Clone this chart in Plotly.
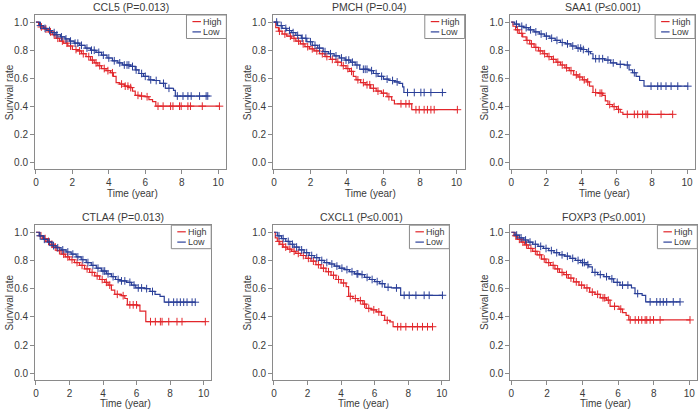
import numpy as np
import plotly.graph_objects as go

W, H = 698, 410

titles = ["CCL5 (P=0.013)", "PMCH (P=0.04)", "SAA1 (P\u22640.001)",
          "CTLA4 (P=0.013)", "CXCL1 (P\u22640.001)", "FOXP3 (P\u22640.001)"]
group_names = ["High", "Low"]
x_ticks = [0, 2, 4, 6, 8, 10]
y_ticks = [0.0, 0.2, 0.4, 0.6, 0.8, 1.0]

# ---------------- CCL5 ----------------
ccl5_high_t = [0, 0.15, 0.3, 0.5, 0.7, 0.9, 1.1, 1.3, 1.5, 1.75, 2.0, 2.25, 2.5, 2.75, 3.0, 3.2, 3.4, 3.6, 3.85, 4.1, 4.25, 4.4, 4.6, 4.85, 5.1, 5.3, 5.45, 5.7, 6.0, 6.2, 6.4, 6.58]
ccl5_high_s = [1.0, 0.98, 0.965, 0.95, 0.93, 0.91, 0.885, 0.865, 0.85, 0.83, 0.805, 0.795, 0.775, 0.755, 0.73, 0.71, 0.69, 0.67, 0.655, 0.64, 0.615, 0.57, 0.56, 0.545, 0.535, 0.51, 0.48, 0.475, 0.47, 0.45, 0.435, 0.403]
ccl5_high_end = 10.07
ccl5_high_cens = [0.3, 0.55, 0.8, 1.0, 1.2, 1.45, 1.7, 1.9, 2.2, 2.4, 2.6, 2.9, 3.1, 3.3, 3.5, 3.75, 3.95, 4.2, 4.7, 4.9, 5.05, 5.2, 5.6, 5.8, 6.1, 6.7, 6.98, 7.39, 7.52, 7.88, 7.97, 8.34, 8.48, 9.13, 10.07]
ccl5_low_t = [0, 0.2, 0.4, 0.6, 0.85, 1.1, 1.35, 1.6, 1.85, 2.1, 2.4, 2.7, 3.0, 3.3, 3.6, 3.9, 4.2, 4.5, 4.75, 5.2, 5.45, 5.65, 5.9, 6.2, 6.5, 6.8, 7.1, 7.55, 7.65]
ccl5_low_s = [1.0, 0.975, 0.955, 0.94, 0.925, 0.91, 0.895, 0.88, 0.865, 0.85, 0.835, 0.815, 0.8, 0.785, 0.765, 0.745, 0.725, 0.71, 0.695, 0.685, 0.66, 0.635, 0.615, 0.59, 0.585, 0.565, 0.53, 0.515, 0.475]
ccl5_low_end = 9.43
ccl5_low_cens = [0.25, 0.5, 0.75, 1.0, 1.15, 1.4, 1.65, 1.9, 2.15, 2.3, 2.5, 2.8, 3.05, 3.2, 3.45, 3.7, 4.0, 4.3, 4.6, 4.85, 5.0, 5.1, 5.3, 5.5, 5.8, 6.0, 6.3, 6.6, 7.0, 7.3, 7.76, 8.07, 8.34, 8.52, 8.98, 9.34, 9.43]

# ---------------- PMCH ----------------
pmch_high_t = [0, 0.1, 0.25, 0.45, 0.7, 0.95, 1.2, 1.45, 1.7, 1.95, 2.2, 2.5, 2.8, 3.1, 3.4, 3.7, 3.95, 4.15, 4.35, 4.5, 4.75, 5.0, 5.3, 5.6, 5.9, 6.2, 6.45, 6.6, 7.55]
pmch_high_s = [1.0, 0.96, 0.935, 0.915, 0.9, 0.885, 0.865, 0.845, 0.825, 0.81, 0.795, 0.775, 0.755, 0.735, 0.715, 0.69, 0.67, 0.65, 0.615, 0.59, 0.57, 0.555, 0.53, 0.51, 0.495, 0.47, 0.445, 0.42, 0.378]
pmch_high_end = 10.05
pmch_high_cens = [0.3, 0.6, 0.9, 1.1, 1.35, 1.6, 1.85, 2.1, 2.35, 2.65, 2.9, 3.2, 3.5, 3.8, 4.05, 4.25, 4.6, 4.9, 5.1, 5.25, 5.45, 5.7, 6.0, 6.3, 6.96, 7.23, 7.41, 7.78, 7.96, 8.23, 8.41, 8.6, 8.78, 10.05]
pmch_low_t = [0, 0.2, 0.45, 0.7, 0.95, 1.2, 1.5, 1.8, 2.1, 2.4, 2.7, 3.0, 3.3, 3.6, 3.9, 4.2, 4.45, 4.7, 5.2, 5.45, 5.7, 6.0, 6.3, 6.6, 6.85, 7.05, 7.12]
pmch_low_s = [1.0, 0.975, 0.955, 0.94, 0.925, 0.905, 0.885, 0.86, 0.835, 0.815, 0.79, 0.775, 0.76, 0.745, 0.73, 0.715, 0.695, 0.665, 0.655, 0.635, 0.615, 0.595, 0.585, 0.575, 0.565, 0.54, 0.50]
pmch_low_end = 9.23
pmch_low_cens = [0.15, 0.4, 0.65, 0.85, 1.05, 1.3, 1.55, 1.75, 2.0, 2.25, 2.5, 2.8, 3.1, 3.4, 3.7, 3.95, 4.1, 4.3, 4.55, 4.9, 5.0, 5.1, 5.35, 5.6, 5.9, 6.2, 6.5, 6.75, 7.32, 7.69, 8.05, 8.23, 8.6, 9.23]

# ---------------- SAA1 ----------------
saa1_high_t = [0, 0.1, 0.25, 0.45, 0.65, 0.85, 1.05, 1.3, 1.55, 1.8, 2.05, 2.3, 2.55, 2.8, 3.05, 3.3, 3.55, 3.8, 4.05, 4.3, 4.45, 4.65, 4.95, 5.2, 5.35, 5.5, 5.75, 6.0, 6.2, 6.35]
saa1_high_s = [1.0, 0.97, 0.945, 0.92, 0.895, 0.87, 0.845, 0.82, 0.795, 0.775, 0.755, 0.735, 0.715, 0.695, 0.675, 0.655, 0.625, 0.61, 0.59, 0.575, 0.545, 0.5, 0.495, 0.48, 0.44, 0.415, 0.4, 0.38, 0.36, 0.345]
saa1_high_end = 9.18
saa1_high_cens = [0.35, 0.6, 0.9, 1.15, 1.4, 1.65, 1.9, 2.15, 2.4, 2.65, 2.9, 3.15, 3.4, 3.7, 3.9, 4.15, 4.35, 4.8, 5.05, 5.15, 5.6, 5.85, 6.1, 6.6, 7.0, 7.19, 7.47, 7.66, 7.76, 8.52, 9.18]
saa1_low_t = [0, 0.2, 0.45, 0.7, 1.0, 1.3, 1.6, 1.9, 2.2, 2.5, 2.8, 3.1, 3.4, 3.7, 4.0, 4.3, 4.5, 4.65, 5.3, 5.65, 6.0, 6.45, 6.7, 6.9, 7.1, 7.3, 7.55]
saa1_low_s = [1.0, 0.985, 0.97, 0.96, 0.945, 0.93, 0.915, 0.9, 0.885, 0.87, 0.855, 0.845, 0.83, 0.815, 0.805, 0.79, 0.775, 0.74, 0.73, 0.71, 0.7, 0.695, 0.66, 0.64, 0.615, 0.585, 0.545]
saa1_low_end = 10.04
saa1_low_cens = [0.3, 0.6, 0.85, 1.1, 1.4, 1.7, 2.0, 2.3, 2.6, 2.9, 3.2, 3.5, 3.8, 3.95, 4.1, 4.4, 4.8, 5.0, 5.2, 5.5, 5.8, 6.2, 6.6, 7.0, 7.95, 8.33, 8.52, 8.8, 9.09, 9.47, 10.04]

# ---------------- CTLA4 ----------------
ctla4_high_t = [0, 0.2, 0.4, 0.6, 0.8, 1.0, 1.25, 1.5, 1.75, 2.0, 2.3, 2.6, 2.9, 3.2, 3.5, 3.8, 4.1, 4.3, 4.5, 4.7, 5.1, 5.3, 5.45, 6.05, 6.2, 6.55]
ctla4_high_s = [1.0, 0.975, 0.955, 0.935, 0.915, 0.895, 0.87, 0.845, 0.825, 0.805, 0.785, 0.765, 0.74, 0.715, 0.69, 0.665, 0.645, 0.625, 0.59, 0.56, 0.55, 0.53, 0.485, 0.48, 0.44, 0.366]
ctla4_high_end = 10.1
ctla4_high_cens = [0.3, 0.55, 0.75, 0.95, 1.15, 1.4, 1.65, 1.9, 2.15, 2.45, 2.75, 3.05, 3.35, 3.65, 3.95, 4.2, 4.4, 4.85, 5.2, 5.6, 5.8, 6.0, 6.83, 7.12, 7.42, 7.52, 7.92, 8.41, 8.71, 10.1]
ctla4_low_t = [0, 0.2, 0.45, 0.7, 0.95, 1.2, 1.5, 1.8, 2.1, 2.4, 2.7, 3.0, 3.3, 3.6, 3.9, 4.2, 4.5, 4.75, 5.0, 5.4, 5.7, 5.95, 6.5, 6.8, 7.1, 7.4, 7.65]
ctla4_low_s = [1.0, 0.975, 0.95, 0.93, 0.905, 0.89, 0.875, 0.86, 0.845, 0.825, 0.805, 0.785, 0.765, 0.745, 0.725, 0.705, 0.685, 0.665, 0.655, 0.645, 0.625, 0.605, 0.6, 0.58, 0.56, 0.545, 0.504]
ctla4_low_end = 9.5
ctla4_low_cens = [0.25, 0.5, 0.8, 1.05, 1.3, 1.6, 1.9, 2.2, 2.5, 2.8, 3.1, 3.4, 3.7, 4.0, 4.1, 4.3, 4.6, 4.9, 5.1, 5.3, 5.6, 5.85, 6.1, 6.3, 6.6, 6.95, 7.92, 8.21, 8.41, 8.61, 8.81, 9.01, 9.31, 9.5]

# ---------------- CXCL1 ----------------
cxcl1_high_t = [0, 0.08, 0.2, 0.35, 0.55, 0.8, 1.05, 1.3, 1.6, 1.9, 2.2, 2.5, 2.8, 3.1, 3.4, 3.7, 4.0, 4.3, 4.45, 4.7, 5.0, 5.3, 5.5, 5.8, 6.1, 6.4, 6.6, 6.9, 7.1]
cxcl1_high_s = [1.0, 0.96, 0.935, 0.915, 0.895, 0.88, 0.865, 0.85, 0.835, 0.815, 0.795, 0.77, 0.745, 0.72, 0.695, 0.665, 0.64, 0.615, 0.545, 0.53, 0.515, 0.49, 0.46, 0.45, 0.435, 0.41, 0.375, 0.365, 0.33]
cxcl1_high_end = 9.45
cxcl1_high_cens = [0.3, 0.5, 0.7, 0.95, 1.2, 1.45, 1.75, 2.05, 2.35, 2.65, 2.95, 3.25, 3.55, 3.85, 4.15, 4.55, 4.85, 5.15, 5.4, 5.65, 5.95, 6.25, 6.75, 7.37, 7.56, 7.86, 8.26, 8.55, 8.85, 9.15, 9.45]
cxcl1_low_t = [0, 0.2, 0.45, 0.7, 0.95, 1.2, 1.5, 1.8, 2.1, 2.4, 2.7, 3.0, 3.3, 3.6, 3.9, 4.2, 4.5, 4.8, 5.1, 5.4, 5.7, 6.0, 6.3, 6.6, 7.0, 7.55]
cxcl1_low_s = [1.0, 0.975, 0.955, 0.935, 0.915, 0.895, 0.875, 0.855, 0.835, 0.82, 0.8, 0.785, 0.775, 0.76, 0.745, 0.735, 0.72, 0.705, 0.7, 0.68, 0.665, 0.65, 0.635, 0.61, 0.605, 0.553]
cxcl1_low_end = 10.04
cxcl1_low_cens = [0.3, 0.55, 0.85, 1.1, 1.35, 1.65, 1.95, 2.25, 2.55, 2.85, 3.15, 3.45, 3.75, 4.05, 4.35, 4.65, 4.95, 5.0, 5.25, 5.55, 5.85, 6.15, 6.45, 6.8, 7.3, 7.76, 8.06, 8.46, 8.95, 9.25, 10.04]

# ---------------- FOXP3 ----------------
foxp3_high_t = [0, 0.15, 0.35, 0.55, 0.75, 0.95, 1.2, 1.45, 1.7, 1.95, 2.2, 2.45, 2.7, 2.95, 3.2, 3.5, 3.8, 4.1, 4.4, 4.7, 5.0, 5.35, 5.55, 6.05, 6.25, 6.45, 6.6]
foxp3_high_s = [1.0, 0.975, 0.95, 0.93, 0.91, 0.885, 0.865, 0.84, 0.81, 0.785, 0.765, 0.74, 0.715, 0.7, 0.675, 0.648, 0.625, 0.605, 0.575, 0.56, 0.535, 0.518, 0.475, 0.455, 0.43, 0.41, 0.378]
foxp3_high_end = 10.04
foxp3_high_cens = [0.25, 0.45, 0.65, 0.85, 1.1, 1.35, 1.6, 1.85, 2.1, 2.35, 2.6, 2.85, 3.1, 3.35, 3.65, 3.95, 4.25, 4.55, 4.85, 5.15, 5.25, 5.45, 5.8, 6.15, 6.68, 6.96, 7.15, 7.33, 7.52, 7.61, 7.8, 7.99, 8.36, 10.04]
foxp3_low_t = [0, 0.2, 0.45, 0.7, 0.95, 1.2, 1.5, 1.8, 2.1, 2.4, 2.7, 3.0, 3.3, 3.6, 3.9, 4.2, 4.35, 4.55, 4.85, 5.2, 5.5, 5.75, 6.1, 6.4, 6.75, 6.95, 7.35, 7.55]
foxp3_low_s = [1.0, 0.98, 0.96, 0.945, 0.93, 0.915, 0.9, 0.885, 0.87, 0.855, 0.84, 0.83, 0.815, 0.8, 0.785, 0.77, 0.755, 0.715, 0.7, 0.685, 0.67, 0.645, 0.625, 0.625, 0.605, 0.565, 0.553, 0.506]
foxp3_low_end = 9.48
foxp3_low_cens = [0.3, 0.55, 0.8, 1.05, 1.35, 1.65, 1.95, 2.25, 2.55, 2.85, 3.15, 3.45, 3.75, 4.0, 4.1, 4.3, 4.7, 5.0, 5.35, 5.65, 5.95, 6.25, 6.55, 7.1, 7.8, 8.17, 8.36, 8.54, 8.73, 9.1, 9.48]

curves = [
    [(ccl5_high_t, ccl5_high_s, ccl5_high_end, ccl5_high_cens), (ccl5_low_t, ccl5_low_s, ccl5_low_end, ccl5_low_cens)],
    [(pmch_high_t, pmch_high_s, pmch_high_end, pmch_high_cens), (pmch_low_t, pmch_low_s, pmch_low_end, pmch_low_cens)],
    [(saa1_high_t, saa1_high_s, saa1_high_end, saa1_high_cens), (saa1_low_t, saa1_low_s, saa1_low_end, saa1_low_cens)],
    [(ctla4_high_t, ctla4_high_s, ctla4_high_end, ctla4_high_cens), (ctla4_low_t, ctla4_low_s, ctla4_low_end, ctla4_low_cens)],
    [(cxcl1_high_t, cxcl1_high_s, cxcl1_high_end, cxcl1_high_cens), (cxcl1_low_t, cxcl1_low_s, cxcl1_low_end, cxcl1_low_cens)],
    [(foxp3_high_t, foxp3_high_s, foxp3_high_end, foxp3_high_cens), (foxp3_low_t, foxp3_low_s, foxp3_low_end, foxp3_low_cens)],
]

# ---------------- layout geometry (pixels) ----------------
RED = "#e2262b"
BLUE = "#2a3f98"
AXC = "#8a8a8a"
TXT = "#3a3a3a"
FONT = "Liberation Sans, Arial, sans-serif"

# panel boxes: left, right, top, bottom in px
boxes = [
    (33.1, 225.0, 15.0, 169.3),
    (271.8, 464.0, 15.0, 169.3),
    (509.8, 695.0, 15.0, 169.3),
    (33.2, 209.8, 225.2, 379.6),
    (271.9, 448.6, 225.2, 379.6),
    (509.9, 697.3, 225.2, 379.6),
]
title_y = [6.5, 6.5, 6.5, 216.7, 216.7, 216.7]
xlab_y = [193.0, 193.0, 193.0, 403.0, 403.0, 403.0]

def px(x):
    return x / W

def py(y):
    return 1 - y / H

fig = go.Figure()
layout = dict(
    width=W, height=H, margin=dict(l=0, r=0, t=0, b=0),
    paper_bgcolor="white", plot_bgcolor="white", showlegend=False,
    font=dict(family=FONT, size=10, color=TXT),
)
annotations = []
shapes = []

for i, (box, pair) in enumerate(zip(boxes, curves)):
    L, R, T, B = box
    k = "" if i == 0 else str(i + 1)
    xa, ya = "x" + k, "y" + k
    layout["xaxis" + k] = dict(
        domain=[px(L), px(R)], range=[-0.05, 10.45], anchor=ya,
        tickvals=x_ticks, ticktext=[str(v) for v in x_ticks],
        ticks="outside", ticklen=4, tickcolor=AXC, tickwidth=1,
        showline=True, linecolor=AXC, linewidth=1, mirror=True,
        showgrid=False, zeroline=False, tickfont=dict(size=10, color=TXT),
    )
    layout["yaxis" + k] = dict(
        domain=[py(B), py(T)], range=[-0.045, 1.05], anchor=xa,
        tickvals=y_ticks, tickformat=".1f",
        ticks="outside", ticklen=4, tickcolor=AXC, tickwidth=1,
        showline=True, linecolor=AXC, linewidth=1, mirror=True,
        showgrid=False, zeroline=False, tickfont=dict(size=10, color=TXT),
    )
    for (t, s, end, cens), col, name in zip(pair, [RED, BLUE], group_names):
        xs = list(t) + [end]
        ys = list(s) + [s[-1]]
        fig.add_trace(go.Scatter(x=xs, y=ys, mode="lines", line=dict(color=col, width=1.2, shape="hv"),
                                 name=name, xaxis=xa, yaxis=ya, hoverinfo="skip"))
        idx = np.searchsorted(np.array(t), np.array(cens), side="right") - 1
        cy = np.array(s)[idx]
        fig.add_trace(go.Scatter(x=cens, y=cy, mode="markers",
                                 marker=dict(symbol="cross-thin", size=5.5, line=dict(color=col, width=1)),
                                 name=name, xaxis=xa, yaxis=ya, hoverinfo="skip"))
    cx = (L + R) / 2
    annotations.append(dict(text=titles[i], x=px(cx), y=py(title_y[i]), xref="paper", yref="paper",
                            showarrow=False, xanchor="center", yanchor="middle",
                            font=dict(size=10.5, color=TXT)))
    annotations.append(dict(text="Time (year)", x=px(cx + 2), y=py(xlab_y[i]), xref="paper", yref="paper",
                            showarrow=False, xanchor="center", yanchor="middle",
                            font=dict(size=10, color=TXT)))
    annotations.append(dict(text="Survival rate", x=px(L - 26), y=py((T + B) / 2), xref="paper", yref="paper",
                            showarrow=False, xanchor="center", yanchor="middle", textangle=-90,
                            font=dict(size=10, color=TXT)))
    # legend box
    shapes.append(dict(type="rect", xref="paper", yref="paper", x0=px(R - 40), x1=px(R), y0=py(T + 23.5), y1=py(T),
                       line=dict(color=AXC, width=1), fillcolor="white", layer="above"))
    for j, (col, name) in enumerate(zip([RED, BLUE], group_names)):
        yy = T + 6.6 + j * 10.3
        shapes.append(dict(type="line", xref="paper", yref="paper", x0=px(R - 34), x1=px(R - 25.5),
                           y0=py(yy), y1=py(yy), line=dict(color=col, width=1.2), layer="above"))
        annotations.append(dict(text=name, x=px(R - 24.5), y=py(yy), xref="paper", yref="paper",
                                showarrow=False, xanchor="left", yanchor="middle", borderpad=0,
                                font=dict(size=9, color=TXT)))

layout["annotations"] = annotations
layout["shapes"] = shapes
fig.update_layout(**layout)
fig.write_html("out.html", config={"displayModeBar": False},
               post_script="document.body.style.margin='0';document.body.style.padding='0';document.body.style.overflow='hidden';")
